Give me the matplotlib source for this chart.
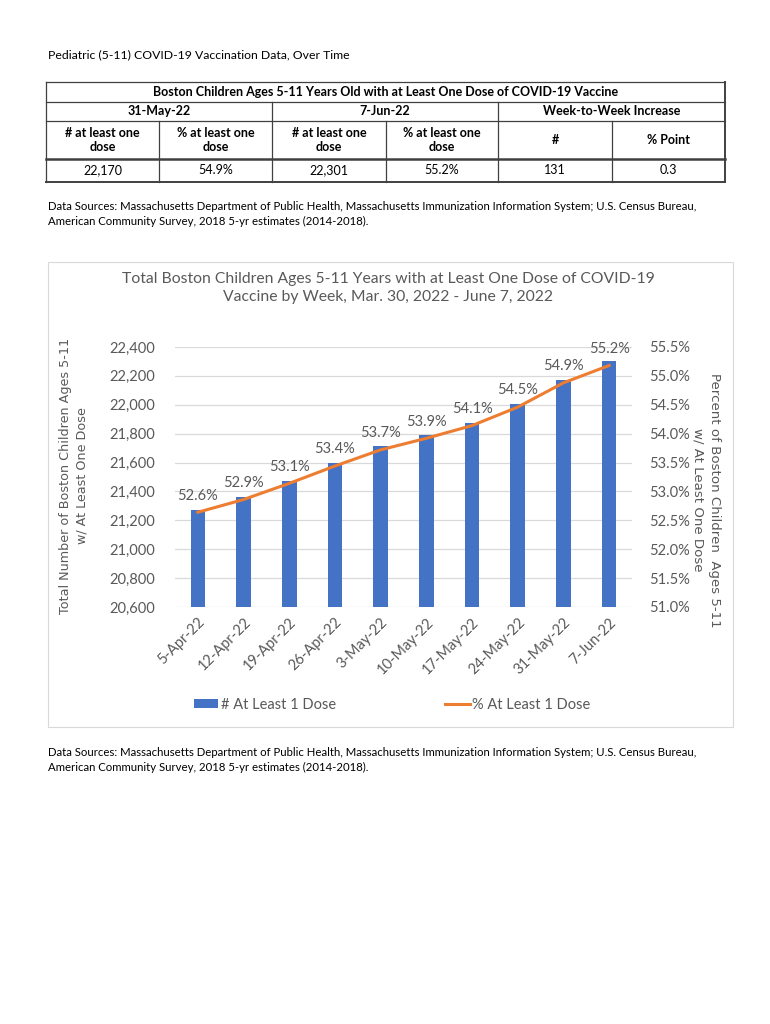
import matplotlib.pyplot as plt
from matplotlib.lines import Line2D
from matplotlib.patches import Rectangle, Patch
from matplotlib.ticker import FuncFormatter

# 数据
weeks = ['5-Apr-22', '12-Apr-22', '19-Apr-22', '26-Apr-22', '3-May-22',
         '10-May-22', '17-May-22', '24-May-22', '31-May-22', '7-Jun-22']
dose_counts = [21275, 21362, 21472, 21594, 21712, 21788, 21875, 22007, 22170, 22301]
dose_pct = [52.64, 52.86, 53.14, 53.44, 53.72, 53.92, 54.14, 54.46, 54.88, 55.18]

table_title = 'Boston Children Ages 5-11 Years Old with at Least One Dose of COVID-19 Vaccine'
table_groups = ['31-May-22', '7-Jun-22', 'Week-to-Week Increase']
table_headers = ['# at least one\ndose', '% at least one\ndose', '# at least one\ndose',
                 '% at least one\ndose', '#', '% Point']

W, H = 770, 1024
FONT = ['Lato', 'DejaVu Sans']
GRAY = '#595959'
plt.rcParams['font.family'] = FONT

fig = plt.figure(figsize=(W / 100, H / 100), dpi=100)


def fx(x):
    return x / W


def fy(y):
    return 1 - y / H


def hline(x0, x1, y, lw=0.9, color='#404040'):
    fig.add_artist(Line2D([fx(x0), fx(x1)], [fy(y), fy(y)], lw=lw, color=color))


def vline(x, y0, y1, lw=0.9, color='#404040'):
    fig.add_artist(Line2D([fx(x), fx(x)], [fy(y0), fy(y1)], lw=lw, color=color))


# 页眉
fig.text(fx(48), fy(55), 'Pediatric (5-11) COVID-19 Vaccination Data, Over Time',
         fontsize=8.8, va='center', ha='left', color='black')

# 表格
cols = [46, 159, 272, 386, 498, 612, 725]
rows = [82, 101.5, 121, 159, 182]
hline(cols[0], cols[-1], rows[0])
hline(cols[0], cols[-1], rows[-1], lw=1.4)
vline(cols[0], rows[0], rows[-1])
vline(cols[-1], rows[0], rows[-1], lw=1.4)
hline(cols[0], cols[-1], rows[1])
hline(cols[0], cols[-1], rows[2])
hline(cols[0], cols[-1], rows[3], lw=1.8)
for c in [cols[2], cols[4]]:
    vline(c, rows[1], rows[-1])
for c in [cols[1], cols[3], cols[5]]:
    vline(c, rows[2], rows[-1])

TS = 9
fig.text(fx((cols[0] + cols[-1]) / 2), fy((rows[0] + rows[1]) / 2), table_title,
         fontsize=TS, fontweight='bold', ha='center', va='center')
for i, g in enumerate(table_groups):
    xc = (cols[2 * i] + cols[2 * i + 2]) / 2
    fig.text(fx(xc), fy((rows[1] + rows[2]) / 2), g, fontsize=TS,
             fontweight='bold', ha='center', va='center')
for i, h in enumerate(table_headers):
    xc = (cols[i] + cols[i + 1]) / 2
    fig.text(fx(xc), fy((rows[2] + rows[3]) / 2), h, fontsize=TS,
             fontweight='bold', ha='center', va='center', linespacing=1.2)

table_values = [f'{dose_counts[-2]:,}', f'{dose_pct[-2]:.1f}%',
                f'{dose_counts[-1]:,}', f'{dose_pct[-1]:.1f}%',
                f'{dose_counts[-1] - dose_counts[-2]:,}',
                f'{round(dose_pct[-1], 1) - round(dose_pct[-2], 1):.1f}']
for i, v in enumerate(table_values):
    xc = (cols[i] + cols[i + 1]) / 2
    fig.text(fx(xc), fy((rows[3] + rows[4]) / 2), v, fontsize=TS,
             ha='center', va='center')

source = ('Data Sources: Massachusetts Department of Public Health, Massachusetts Immunization '
          'Information System; U.S. Census Bureau,\nAmerican Community Survey, 2018 5-yr '
          'estimates (2014-2018).')
fig.text(fx(48), fy(201), source, fontsize=8.2, ha='left', va='top', linespacing=1.4)

# 图表外框
fig.add_artist(Rectangle((fx(48), fy(727)), fx(733) - fx(48), fy(262) - fy(727),
                         fill=False, edgecolor='#D9D9D9', lw=0.8))

fig.text(fx(388), fy(288), 'Total Boston Children Ages 5-11 Years with at Least One Dose of COVID-19\n'
         'Vaccine by Week, Mar. 30, 2022 - June 7, 2022', fontsize=11.3, color=GRAY,
         ha='center', va='center', linespacing=1.45)

ax = fig.add_axes([fx(175), fy(607), fx(632) - fx(175), fy(347) - fy(607)])
x = list(range(len(weeks)))
ax.bar(x, dose_counts, width=0.32, color='#4472C4', zorder=2)
ax.set_ylim(20600, 22400)
ax.set_yticks(range(20600, 22401, 200))
ax.yaxis.set_major_formatter(FuncFormatter(lambda v, p: f'{v:,.0f}'))
ax.set_xlim(-0.5, len(weeks) - 0.5)
ax.set_xticks(x)
ax.set_xticklabels(weeks, rotation=45, ha='right', rotation_mode='anchor')
ax.grid(axis='y', color='#D9D9D9', lw=0.9, zorder=0)
ax.set_axisbelow(True)
for s in ax.spines.values():
    s.set_visible(False)
ax.tick_params(axis='both', length=0, labelsize=10.5, labelcolor=GRAY)
ax.tick_params(axis='y', pad=14)
ax.tick_params(axis='x', pad=6)

ax2 = ax.twinx()
ax2.plot(x, dose_pct, color='#ED7D31', lw=2.2, zorder=3)
ax2.set_ylim(51.0, 55.5)
ax2.set_yticks([51.0 + 0.5 * i for i in range(10)])
ax2.yaxis.set_major_formatter(FuncFormatter(lambda v, p: f'{v:.1f}%'))
for s in ax2.spines.values():
    s.set_visible(False)
ax2.tick_params(axis='y', length=0, labelsize=10.5, labelcolor=GRAY, pad=12)
for xi, p in zip(x, dose_pct):
    ax2.annotate(f'{p:.1f}%', xy=(xi, p), xytext=(0, 7), textcoords='offset points',
                 ha='center', va='bottom', fontsize=10.5, color=GRAY)

# 坐标轴标题
fig.text(fx(74), fy(476), 'Total Number of Boston Children Ages 5-11\nw/ At Least One Dose',
         rotation=90, ha='center', va='center', fontsize=9.2, color=GRAY,
         family=['DejaVu Sans'], linespacing=1.3)
fig.text(fx(706), fy(500), 'Percent of Boston Children  Ages 5-11\nw/ At Least One Dose',
         rotation=-90, ha='center', va='center', fontsize=9.6, color=GRAY,
         family=['DejaVu Sans'], linespacing=1.3)

# 图例
handles = [Patch(facecolor='#4472C4'), Line2D([0], [0], color='#ED7D31', lw=2.2)]
fig.legend(handles, ['# At Least 1 Dose', '% At Least 1 Dose'], loc='center',
           bbox_to_anchor=(fx(392), fy(705)), ncol=2, frameon=False, fontsize=10.5,
           labelcolor=GRAY, handlelength=1.7, handleheight=0.6, handletextpad=0.15,
           columnspacing=7.5)

fig.text(fx(48), fy(747), source, fontsize=8.2, ha='left', va='top', linespacing=1.4)

fig.savefig('out.png', dpi=100, facecolor='white')
